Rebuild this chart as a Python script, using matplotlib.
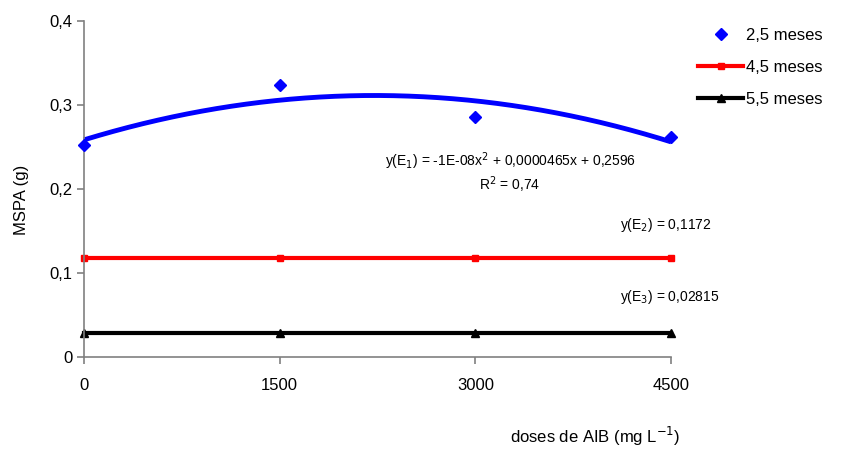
import numpy as np
import matplotlib.pyplot as plt
from matplotlib.ticker import FuncFormatter

plt.rcParams['font.family'] = ['Liberation Sans', 'DejaVu Sans']

# doses de AIB (mg L-1)
doses = [0, 1500, 3000, 4500]
# MSPA (g) por epoca
mspa_25 = [0.252, 0.324, 0.286, 0.262]
mspa_45 = [0.1172, 0.1172, 0.1172, 0.1172]
mspa_55 = [0.02815, 0.02815, 0.02815, 0.02815]
labels = ['2,5 meses', '4,5 meses', '5,5 meses']

fig = plt.figure(figsize=(8.43, 4.5), dpi=100)
ax = fig.add_axes([0.0996, 0.207, 0.6965, 0.747])

# quadratic trend for 2,5 meses
coef = np.polyfit(doses, mspa_25, 2)
xs = np.linspace(0, 4500, 200)
ax.plot(xs, np.polyval(coef, xs), color='#0000ff', lw=3.5, solid_capstyle='butt', zorder=2)
ax.plot(doses, mspa_25, linestyle='none', marker='D', color='#0000ff', markersize=6.5,
        label=labels[0], zorder=3)
ax.plot(doses, mspa_45, color='#ff0000', lw=3, marker='s', markersize=5, label=labels[1])
ax.plot(doses, mspa_55, color='black', lw=3, marker='^', markersize=5.5, label=labels[2])

ax.set_xlim(0, 4500)
ax.set_ylim(0, 0.4)
ax.set_xticks(doses)
ax.set_yticks([0, 0.1, 0.2, 0.3, 0.4])
ax.yaxis.set_major_formatter(FuncFormatter(lambda v, p: '0' if v == 0 else f'{v:.1f}'.replace('.', ',')))
for s in ['top', 'right']:
    ax.spines[s].set_visible(False)
for s in ['left', 'bottom']:
    ax.spines[s].set_color('#808080')
    ax.spines[s].set_linewidth(1.2)
ax.tick_params(axis='both', colors='#808080', labelcolor='black', labelsize=12, length=5, width=1.2)
ax.tick_params(axis='x', pad=10)
for ln in ax.lines:
    ln.set_clip_on(False)

ax.text(3266, 0.233, 'y(E$_1$) = -1E-08x$^2$ + 0,0000465x + 0,2596', fontsize=10, ha='center', va='center')
ax.text(3266, 0.205, 'R$^2$ = 0,74', fontsize=10, ha='center', va='center')
ax.text(4105, 0.157, 'y(E$_2$) = 0,1172', fontsize=10, ha='left', va='center')
ax.text(4105, 0.071, 'y(E$_3$) = 0,02815', fontsize=10, ha='left', va='center')

fig.text(0.026, 0.556, 'MSPA (g)', rotation=90, fontsize=12, ha='center', va='center')
fig.text(0.706, 0.03, 'doses de AIB (mg L$^{-1}$)', fontsize=12, ha='center', va='center')

ax.legend(loc='upper left', bbox_to_anchor=(0.828, 0.938), bbox_transform=fig.transFigure,
          frameon=False, fontsize=12, handlelength=2.7, handletextpad=0.2,
          labelspacing=1.03, borderpad=0, borderaxespad=0)

fig.savefig('out.png', dpi=100)
